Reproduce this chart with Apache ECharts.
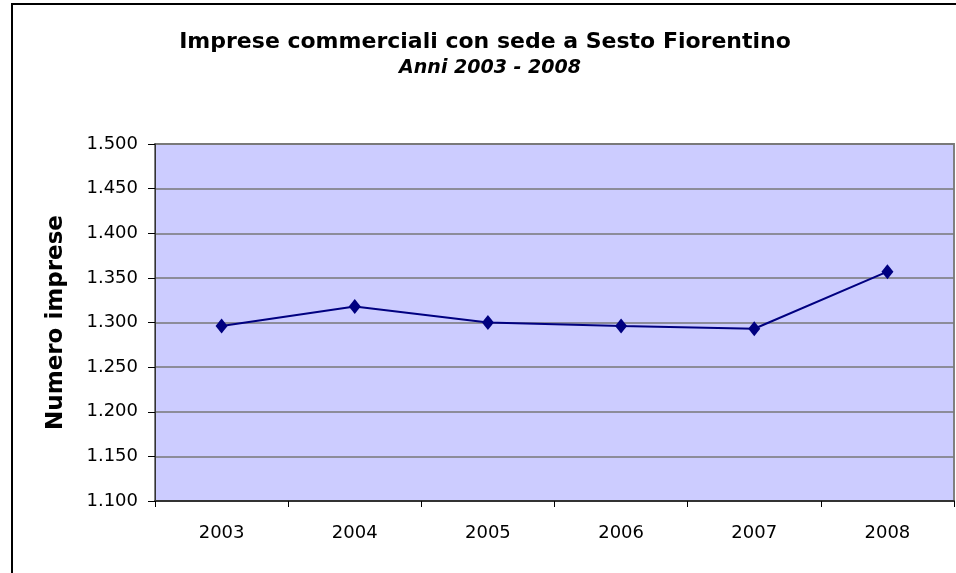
<!DOCTYPE html>
<html>
<head>
<meta charset="utf-8">
<title>Imprese commerciali</title>
<script src="https://cdn.jsdelivr.net/npm/echarts@6/dist/echarts.min.js"></script>
<style>
  html, body { margin: 0; padding: 0; background: #fff; }
  #chart { width: 956px; height: 573px; }
</style>
</head>
<body>
<div id="chart"></div>
<script>
// dati
const anni = ['2003', '2004', '2005', '2006', '2007', '2008']
const imprese = [1296, 1318, 1300, 1296, 1293, 1357]
const yMin = 1100
const yMax = 1500
const yStep = 50

const font = 'DejaVu Sans, Liberation Sans, Arial'

const chart = echarts.init(document.getElementById('chart'))
chart.setOption({
  backgroundColor: '#fff',
  animation: false,
  title: [
    {
      text: 'Imprese commerciali con sede a Sesto Fiorentino',
      left: 480,
      top: 26,
      textAlign: 'center',
      textStyle: {
        fontFamily: font,
        fontWeight: 'bold',
        fontSize: 22,
        color: '#000',
      },
    },
    {
      text: 'Anni 2003 - 2008',
      left: 485,
      top: 54,
      textAlign: 'center',
      textStyle: {
        fontFamily: font,
        fontWeight: 'bold',
        fontStyle: 'italic',
        fontSize: 19,
        color: '#000',
      },
    },
  ],
  graphic: [
    {
      type: 'rect',
      shape: { x: 12, y: 4, width: 1200, height: 1000 },
      style: { fill: null, stroke: '#000', lineWidth: 2 },
      silent: true,
    },
  ],
  grid: {
    left: 155,
    top: 144,
    right: 2,
    bottom: 72,
    show: true,
    backgroundColor: '#CCCCFF',
    borderColor: '#808080',
    borderWidth: 2,
  },
  xAxis: {
    type: 'category',
    data: anni,
    boundaryGap: true,
    axisLine: { lineStyle: { color: '#333', width: 2 } },
    axisTick: { show: true, length: 6, lineStyle: { color: '#000' } },
    axisLabel: {
      margin: 23,
      fontFamily: font,
      fontSize: 18,
      color: '#000',
    },
  },
  yAxis: {
    type: 'value',
    min: yMin,
    max: yMax,
    interval: yStep,
    name: 'Numero imprese',
    nameLocation: 'middle',
    nameGap: 87,
    nameTextStyle: {
      fontFamily: font,
      fontWeight: 'bold',
      fontSize: 23,
      color: '#000',
    },
    axisLine: { show: true, lineStyle: { color: '#333', width: 1 } },
    axisTick: { show: true, length: 7, lineStyle: { color: '#000' } },
    splitLine: { show: true, lineStyle: { color: '#777', width: 1.5 } },
    axisLabel: {
      margin: 17,
      fontFamily: font,
      fontSize: 18,
      color: '#000',
      formatter: (v) => (v / 1000).toFixed(3),
    },
  },
  series: [
    {
      type: 'line',
      data: imprese,
      symbol: 'diamond',
      symbolSize: [12, 15],
      itemStyle: { color: '#000080' },
      lineStyle: { color: '#000080', width: 2 },
    },
  ],
})
</script>
</body>
</html>
